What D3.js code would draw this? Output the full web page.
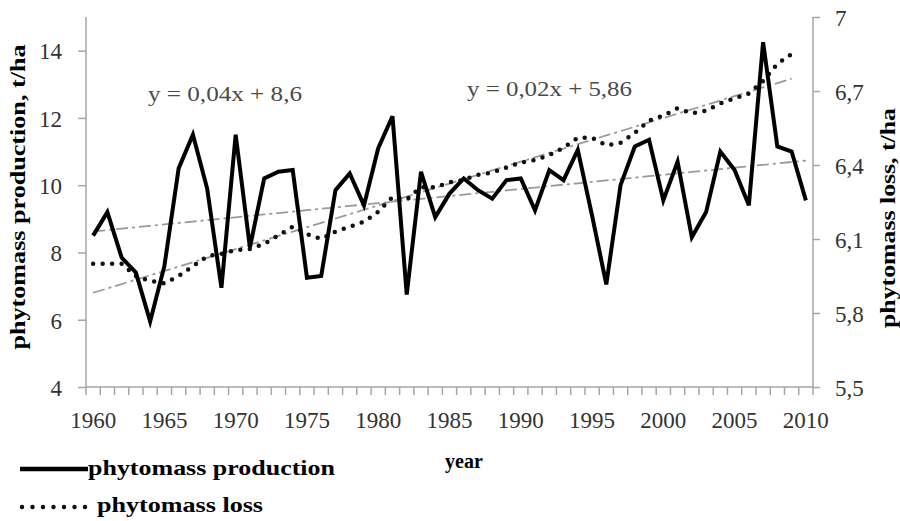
<!DOCTYPE html>
<html>
<head>
<meta charset="utf-8">
<script src="https://cdn.jsdelivr.net/npm/d3@7"></script>
<style>
  body { margin: 0; background: #fff; }
  svg text { font-family: "Liberation Serif", "DejaVu Serif", serif !important; }
</style>
</head>
<body>
<div id="chart"></div>
<script>
const years = d3.range(1960, 2011)

// phytomass production, t/ha (left axis), 1960-2010
const production = [
  8.5, 9.2, 7.85, 7.4, 5.95, 7.6, 10.5, 11.5, 9.9, 6.95,
  11.5, 8.15, 10.2, 10.4, 10.45, 7.25, 7.3, 9.85, 10.35, 9.4,
  11.1, 12.05, 6.75, 10.4, 9.05, 9.75, 10.2, 9.85, 9.6, 10.15,
  10.2, 9.25, 10.45, 10.15, 11.05, 9.1, 7.05, 10.0, 11.15, 11.35,
  9.55, 10.7, 8.45, 9.2, 11.0, 10.45, 9.4, 14.25, 11.15, 11.0,
  9.55
]

// phytomass loss, t/ha (right axis), 1960-2009
const loss = [
  6.0, 6.0, 6.0, 5.95, 5.93, 5.92, 5.95, 5.99, 6.03, 6.04,
  6.055, 6.06, 6.08, 6.115, 6.15, 6.12, 6.1, 6.13, 6.15, 6.17,
  6.21, 6.27, 6.26, 6.31, 6.31, 6.33, 6.34, 6.36, 6.37, 6.39,
  6.41, 6.42, 6.44, 6.47, 6.51, 6.51, 6.48, 6.49, 6.53, 6.58,
  6.6, 6.63, 6.61, 6.62, 6.65, 6.67, 6.69, 6.74, 6.81, 6.85
]

const leftTicks = [4, 6, 8, 10, 12, 14]
const rightTicks = [5.5, 5.8, 6.1, 6.4, 6.7, 7]
const yearLabels = d3.range(1960, 2011, 5)
const equations = ['y = 0,04x + 8,6', 'y = 0,02x + 5,86']

const width = 900
const height = 521
const plot = { left: 86, right: 813, top: 17, bottom: 387 }

const x = d3.scaleBand()
  .domain(years)
  .range([plot.left, plot.right])
  .padding(0)

const yL = d3.scaleLinear().domain([4, 15]).range([plot.bottom, plot.top])
const yR = d3.scaleLinear().domain([5.5, 7]).range([plot.bottom, plot.top])
const cx = yr => x(yr) + x.bandwidth() / 2

const svg = d3.select('#chart').append('svg')
  .attr('width', width)
  .attr('height', height)

// least squares trend, x = 1..n like Excel
const trend = vals => {
  const xs = vals.map((d, i) => i + 1)
  const mx = d3.mean(xs)
  const my = d3.mean(vals)
  const b = d3.sum(xs, (v, i) => (v - mx) * (vals[i] - my)) / d3.sum(xs, v => (v - mx) ** 2)
  const a = my - b * mx
  return xs.map(v => a + b * v)
}

const axisColor = '#a6a6a6'
const labelColor = '#333'

// left axis
const gl = svg.append('g').attr('transform', `translate(${plot.left},0)`)
  .call(d3.axisLeft(yL).tickValues(leftTicks).tickSize(8).tickPadding(16).tickSizeOuter(0))
gl.select('.domain').attr('stroke', axisColor).attr('stroke-width', 1.5)
  .attr('d', `M0,${plot.top}V${plot.bottom}`)
gl.selectAll('.tick line').attr('stroke', axisColor).attr('stroke-width', 1.5)
gl.selectAll('.tick text').attr('fill', labelColor).attr('font-size', 23).attr('dy', '0.36em')

// right axis
const gr = svg.append('g').attr('transform', `translate(${plot.right},0)`)
  .call(d3.axisRight(yR).tickValues(rightTicks).tickSize(7).tickPadding(15).tickSizeOuter(0)
    .tickFormat(d => String(d).replace('.', ',')))
gr.select('.domain').attr('stroke', axisColor).attr('stroke-width', 1.5)
  .attr('d', `M0,${plot.top}V${plot.bottom}`)
gr.selectAll('.tick line').attr('stroke', axisColor).attr('stroke-width', 1.5)
gr.selectAll('.tick text').attr('fill', labelColor).attr('font-size', 23).attr('dy', '0.36em')

// bottom axis: tick at each year boundary, label every 5 years
const gb = svg.append('g').attr('transform', `translate(0,${plot.bottom})`)
gb.append('line')
  .attr('x1', plot.left).attr('x2', plot.right)
  .attr('stroke', axisColor).attr('stroke-width', 1.5)
gb.selectAll('line.yt')
  .data(years.concat([2011])).enter()
  .append('line').attr('class', 'yt')
  .attr('x1', d => d === 2011 ? plot.right : x(d))
  .attr('x2', d => d === 2011 ? plot.right : x(d))
  .attr('y1', 0).attr('y2', 8)
  .attr('stroke', axisColor).attr('stroke-width', 1.5)
gb.selectAll('text')
  .data(yearLabels).enter()
  .append('text')
  .attr('x', d => cx(d))
  .attr('y', 41)
  .attr('text-anchor', 'middle')
  .attr('font-size', 23)
  .attr('fill', labelColor)
  .text(d => d)

// trend lines
const trendLine = (vals, yScale) => d3.line()
  .x((d, i) => cx(years[i]))
  .y(d => yScale(d))(trend(vals))

svg.append('path')
  .attr('d', trendLine(production, yL))
  .attr('fill', 'none').attr('stroke', '#9a9a9a').attr('stroke-width', 1.8)
  .attr('stroke-dasharray', '12 4 3 4')
svg.append('path')
  .attr('d', trendLine(loss, yR))
  .attr('fill', 'none').attr('stroke', '#9a9a9a').attr('stroke-width', 1.8)
  .attr('stroke-dasharray', '12 4 3 4')

// loss (dotted)
svg.append('path')
  .attr('d', d3.line().x((d, i) => cx(years[i])).y(d => yR(d))(loss))
  .attr('fill', 'none').attr('stroke', '#111').attr('stroke-width', 4.5)
  .attr('stroke-linecap', 'round').attr('stroke-dasharray', '0 9.5')

// production (solid)
svg.append('path')
  .attr('d', d3.line().x((d, i) => cx(years[i])).y(d => yL(d))(production))
  .attr('fill', 'none').attr('stroke', '#000').attr('stroke-width', 4)
  .attr('stroke-linejoin', 'miter')

// equations
svg.append('text').attr('x', 148).attr('y', 101)
  .attr('font-size', 22).attr('fill', '#4a4a4a')
  .attr('textLength', 154).attr('lengthAdjust', 'spacingAndGlyphs')
  .text(equations[0])
svg.append('text').attr('x', 467).attr('y', 96)
  .attr('font-size', 22).attr('fill', '#4a4a4a')
  .attr('textLength', 165).attr('lengthAdjust', 'spacingAndGlyphs')
  .text(equations[1])

// axis titles
svg.append('text')
  .attr('transform', 'translate(25,197) rotate(-90)')
  .attr('text-anchor', 'middle').attr('font-weight', 'bold').attr('font-size', 21)
  .attr('textLength', 305).attr('lengthAdjust', 'spacingAndGlyphs')
  .text('phytomass production, t/ha')
svg.append('text')
  .attr('transform', 'translate(895,218) rotate(-90)')
  .attr('text-anchor', 'middle').attr('font-weight', 'bold').attr('font-size', 21)
  .attr('textLength', 220).attr('lengthAdjust', 'spacingAndGlyphs')
  .text('phytomass loss, t/ha')
svg.append('text')
  .attr('x', 464).attr('y', 468)
  .attr('text-anchor', 'middle').attr('font-weight', 'bold').attr('font-size', 20)
  .text('year')

// legend
const legend = svg.append('g')
legend.append('line').attr('x1', 20).attr('x2', 88).attr('y1', 469).attr('y2', 469)
  .attr('stroke', '#000').attr('stroke-width', 4.5)
legend.append('text').attr('x', 88).attr('y', 475)
  .attr('font-weight', 'bold').attr('font-size', 21)
  .attr('textLength', 247).attr('lengthAdjust', 'spacingAndGlyphs')
  .text('phytomass production')
legend.append('line').attr('x1', 22).attr('x2', 86).attr('y1', 507).attr('y2', 507)
  .attr('stroke', '#111').attr('stroke-width', 4.5)
  .attr('stroke-linecap', 'round').attr('stroke-dasharray', '0 10.5')
legend.append('text').attr('x', 97).attr('y', 512)
  .attr('font-weight', 'bold').attr('font-size', 21)
  .attr('textLength', 166).attr('lengthAdjust', 'spacingAndGlyphs')
  .text('phytomass loss')
</script>
</body>
</html>
